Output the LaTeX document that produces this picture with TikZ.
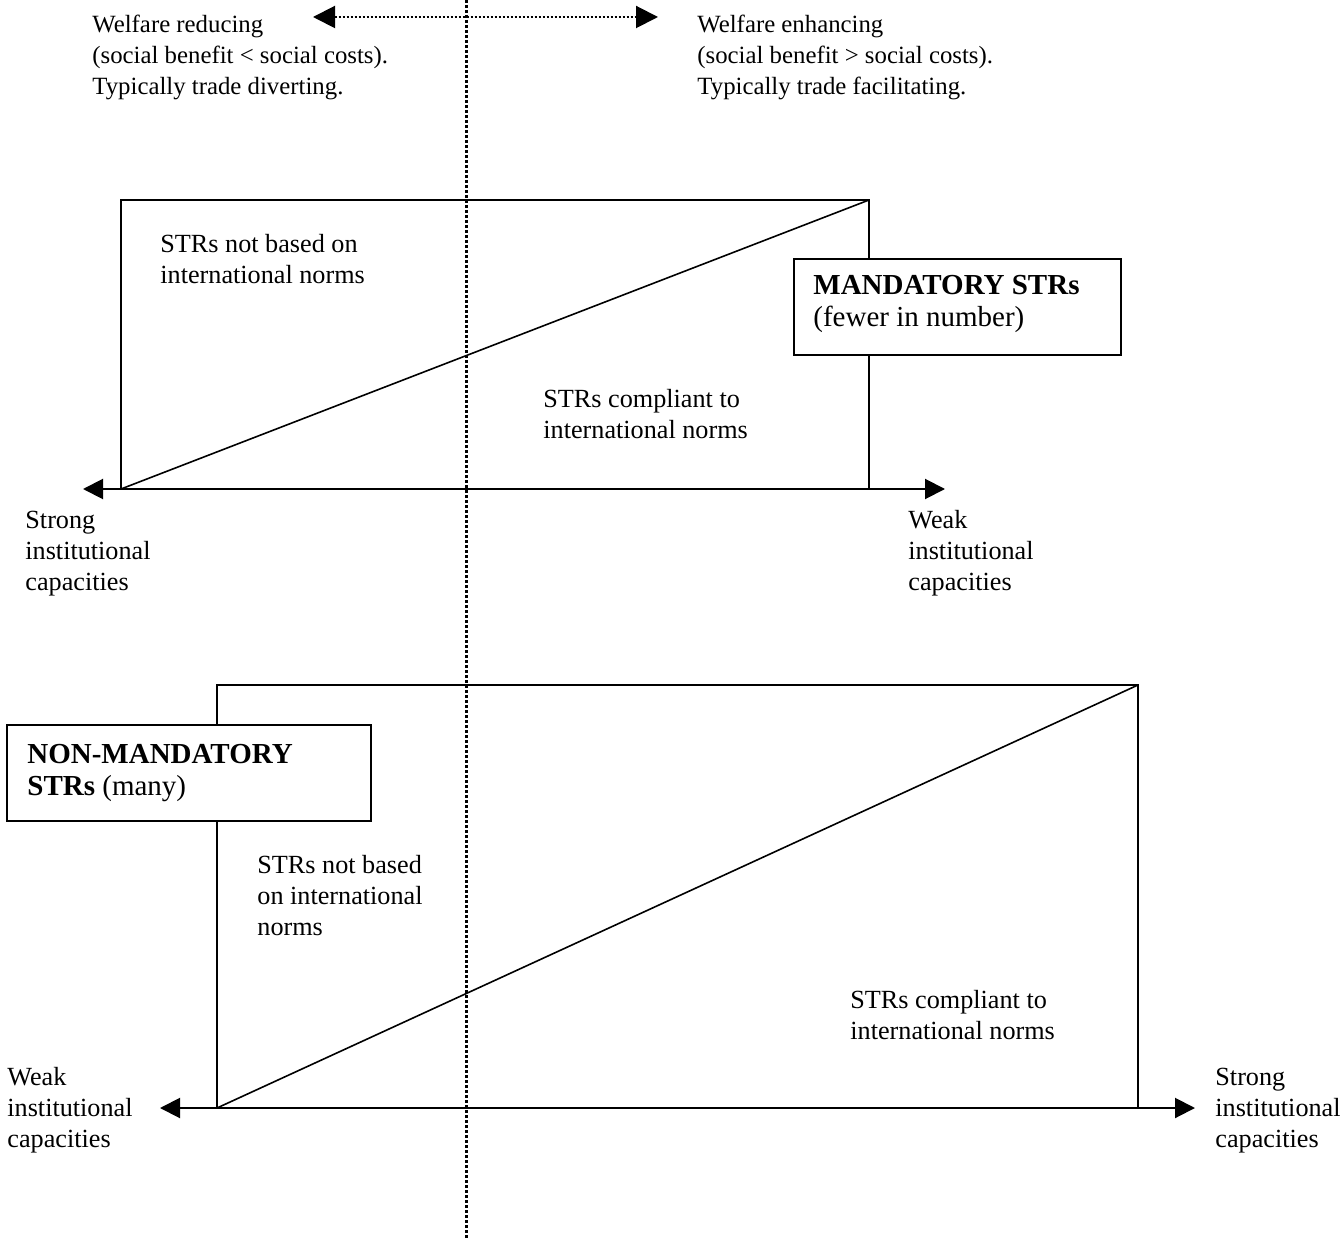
\documentclass[tikz,border=0pt]{standalone}
\usepackage{fontspec}
\setmainfont{Liberation Serif}
\usetikzlibrary{arrows.meta}
\begin{document}
\begin{tikzpicture}[x=0.5pt,y=-0.5pt,
  ttxt/.style={font=\fontsize{12.4}{15.5}\selectfont, inner sep=0pt, anchor=base west, align=left},
  txt/.style={font=\fontsize{13.1}{15.5}\selectfont, inner sep=0pt, anchor=base west, align=left},
  btxt/.style={font=\fontsize{14.5}{16}\selectfont, inner sep=0pt, anchor=base west, align=left},
  frame/.style={line width=0.8pt},
  axis/.style={line width=1pt, {Triangle[length=10pt,width=10pt]}-{Triangle[length=10pt,width=10pt]}},
  labelbox/.style={draw, fill=white, line width=1pt, inner sep=0pt},
  divider/.style={line width=1.5pt, dash pattern=on 1.5pt off 1pt},
  welfare/.style={line width=1pt, dash pattern=on 1pt off 1pt, {Triangle[length=11pt,width=11pt]}-{Triangle[length=11pt,width=11pt]}}]
\useasboundingbox (0,0) rectangle (1343,1240);

% top welfare labels and arrow (anchors at last baseline)
\node[ttxt] (wl) at (92,95) {Welfare reducing\\(social benefit < social costs).\\Typically trade diverting.};
\node[ttxt] (wr) at (697,95) {Welfare enhancing\\(social benefit > social costs).\\Typically trade facilitating.};
\coordinate (wa) at (313,17);
\coordinate (wb) at (658,17);
\draw[welfare] (wa) -- (wb);

% upper diagram
\coordinate (ua) at (121,489);
\coordinate (ub) at (869,200);
\draw[frame] (ua) rectangle (ub);
\draw[frame] (ua) -- (ub);
\coordinate (uL) at (83,489);
\coordinate (uR) at (945,489);
\draw[axis] (uL) -- (uR);
\node[txt] (u1) at (160,284) {STRs not based on\\international norms};
\node[txt] (u2) at (543,439) {STRs compliant to\\international norms};
\node[txt] (u3) at (25,590) {Strong\\institutional\\capacities};
\node[txt] (u4) at (908,590) {Weak\\institutional\\capacities};
\node[labelbox, minimum width=163.5pt, minimum height=48pt, anchor=north west] (mbox) at (793,258) {};
\node[btxt] (mtext) at (813,327) {\textbf{MANDATORY STRs}\\(fewer in number)};

% lower diagram
\coordinate (la) at (217,1108);
\coordinate (lb) at (1138,685);
\draw[frame] (la) rectangle (lb);
\draw[frame] (la) -- (lb);
\coordinate (lL) at (160,1108);
\coordinate (lR) at (1195,1108);
\draw[axis] (lL) -- (lR);
\node[txt] (l1) at (257,935) {STRs not based\\on international\\norms};
\node[txt] (l2) at (850,1039) {STRs compliant to\\international norms};
\node[txt] (l3) at (7,1147) {Weak\\institutional\\capacities};
\node[txt] (l4) at (1215,1147) {Strong\\institutional\\capacities};
\node[labelbox, minimum width=182pt, minimum height=48pt, anchor=north west] (nbox) at (6,724) {};
\node[btxt] (ntext) at (27,795) {\textbf{NON-MANDATORY}\\\textbf{STRs} (many)};

% vertical dotted divider
\coordinate (vt) at (466,0);
\coordinate (vb) at (466,1240);
\draw[divider] (vt) -- (vb);
\end{tikzpicture}
\end{document}
